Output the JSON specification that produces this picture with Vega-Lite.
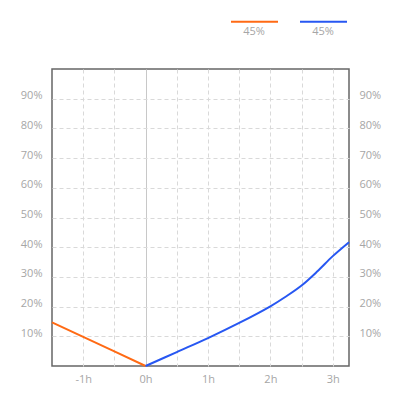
{
  "$schema": "https://vega.github.io/schema/vega-lite/v6.json",
  "width": 297,
  "height": 297,
  "autosize": {"type": "none"},
  "padding": {"left": 52, "top": 69, "right": 51, "bottom": 34},
  "background": "white",
  "config": {
    "font": "Open Sans",
    "view": {"stroke": "#666666", "strokeWidth": 1.5},
    "axis": {
      "labelColor": "#a6a6a6",
      "labelFont": "Open Sans",
      "labelFontSize": 11,
      "domain": false,
      "ticks": false,
      "title": null,
      "gridColor": "#d9d9d9",
      "gridDash": [4, 3],
      "gridWidth": 1
    }
  },
  "data": {
    "values": [
      {"hours": -1.5, "share": 0.147, "series": "before"},
      {"hours": -1.0, "share": 0.098, "series": "before"},
      {"hours": -0.5, "share": 0.049, "series": "before"},
      {"hours": 0.0, "share": 0.0, "series": "before"},
      {"hours": 0.0, "share": 0.0, "series": "after"},
      {"hours": 0.5, "share": 0.047, "series": "after"},
      {"hours": 1.0, "share": 0.094, "series": "after"},
      {"hours": 1.5, "share": 0.145, "series": "after"},
      {"hours": 2.0, "share": 0.201, "series": "after"},
      {"hours": 2.25, "share": 0.234, "series": "after"},
      {"hours": 2.5, "share": 0.271, "series": "after"},
      {"hours": 2.75, "share": 0.318, "series": "after"},
      {"hours": 3.0, "share": 0.37, "series": "after"},
      {"hours": 3.26, "share": 0.417, "series": "after"}
    ]
  },
  "encoding": {
    "x": {
      "field": "hours",
      "type": "quantitative",
      "scale": {"domain": [-1.5, 3.26], "nice": false, "zero": false},
      "axis": {
        "values": [-1, -0.5, 0, 0.5, 1, 1.5, 2, 2.5, 3],
        "labelExpr": "datum.value % 1 === 0 ? datum.value + 'h' : ''",
        "labelPadding": 7,
        "labelDx": -4,
        "labelFlush": false,
        "gridDash": {"condition": {"test": "datum.value === 0", "value": []}, "value": [4, 3]},
        "gridColor": {"condition": {"test": "datum.value === 0", "value": "#c8c8c8"}, "value": "#d9d9d9"}
      }
    },
    "color": {
      "field": "series",
      "type": "nominal",
      "scale": {"domain": ["before", "after"], "range": ["#ff6a14", "#2757f2"]},
      "legend": {
        "orient": "none",
        "legendX": 178,
        "legendY": -72,
        "direction": "horizontal",
        "title": null,
        "symbolType": "stroke",
        "symbolSize": 2209,
        "symbolStrokeWidth": 2,
        "labelExpr": "'45%'",
        "labelAlign": "center",
        "labelBaseline": "top",
        "labelOffset": -25,
        "labelColor": "#a6a6a6",
        "labelFont": "Open Sans",
        "labelFontSize": 11,
        "columnPadding": 14,
        "padding": 0,
        "encode": {"labels": {"update": {"dy": {"value": 4}}}}
      }
    }
  },
  "layer": [
    {
      "transform": [{"filter": "datum.series === 'before'"}],
      "mark": {"type": "line", "strokeWidth": 2},
      "encoding": {
        "y": {
          "field": "share",
          "type": "quantitative",
          "scale": {"domain": [0, 1], "nice": false},
          "axis": {
            "orient": "left",
            "values": [0.1, 0.2, 0.3, 0.4, 0.5, 0.6, 0.7, 0.8, 0.9],
            "format": ".0%",
            "labelPadding": 10,
            "labelBaseline": "alphabetic",
            "grid": true
          }
        }
      }
    },
    {
      "transform": [{"filter": "datum.series === 'after'"}],
      "mark": {"type": "line", "strokeWidth": 2, "interpolate": "catmull-rom"},
      "encoding": {
        "y": {
          "field": "share",
          "type": "quantitative",
          "scale": {"domain": [0, 1], "nice": false},
          "axis": {
            "orient": "right",
            "values": [0.1, 0.2, 0.3, 0.4, 0.5, 0.6, 0.7, 0.8, 0.9],
            "format": ".0%",
            "labelPadding": 10,
            "labelBaseline": "alphabetic",
            "grid": false
          }
        }
      }
    }
  ],
  "resolve": {"axis": {"y": "independent"}}
}
